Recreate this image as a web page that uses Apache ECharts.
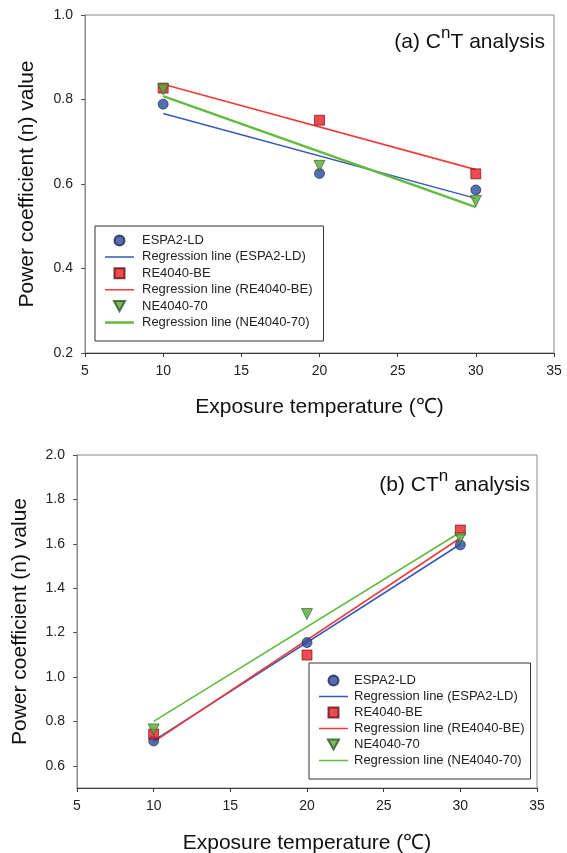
<!DOCTYPE html>
<html>
<head>
<meta charset="utf-8">
<script src="https://cdn.jsdelivr.net/npm/echarts@6/dist/echarts.min.js"></script>
<style>
    body { margin: 0; background: #fff; }
    #chart-a { position: absolute; left: 0; top: 0; width: 567px; height: 427px; }
    #chart-b { position: absolute; left: 0; top: 427px; width: 567px; height: 426px; }
</style>
</head>
<body>
<div id="chart-a"></div>
<div id="chart-b"></div>
<script type="application/javascript">
    // data
    var temps = [10, 20, 30];
    var fitX = [10, 30];
    var xTicks = [5, 10, 15, 20, 25, 30, 35];

    // (a) C^nT analysis
    var espaA = [0.789, 0.625, 0.586];
    var reA = [0.827, 0.751, 0.624];
    var neA = [0.824, 0.643, 0.560];
    var espaFitA = [0.767, 0.566];
    var reFitA = [0.836, 0.634];
    var neFitA = [0.808, 0.545];
    var yTicksA = [0.2, 0.4, 0.6, 0.8, 1.0];

    // (b) CT^n analysis
    var espaB = [0.712, 1.155, 1.595];
    var reB = [0.743, 1.099, 1.662];
    var neB = [0.764, 1.284, 1.625];
    var espaFitB = [0.713, 1.598];
    var reFitB = [0.708, 1.626];
    var neFitB = [0.800, 1.652];
    var yTicksB = [0.6, 0.8, 1.0, 1.2, 1.4, 1.6, 1.8, 2.0];

    var names = ['ESPA2-LD', 'Regression line (ESPA2-LD)', 'RE4040-BE',
                 'Regression line (RE4040-BE)', 'NE4040-70', 'Regression line (NE4040-70)'];
    var FONT = '"Liberation Sans", Arial, sans-serif';
    var triDown = 'path://M0,0 L10,0 L5,9 Z';
    var square = 'path://M0,0 L10,0 L10,10 L0,10 Z';

    function pairs(xs, ys) {
        return xs.map(function (x, i) { return [x, ys[i]]; });
    }

    // flat bar used as the legend icon of a regression line
    function lineIcon(w) {
        var y0 = (10 - w) / 2;
        return 'path://M0,0 L0.01,0 L0.01,10 L0,10 Z M0,' + y0 + ' L29,' + y0 + ' L29,' + (y0 + w) + ' L0,' + (y0 + w) + ' Z';
    }

    function scatter(name, xs, ys, symbol, size, color, border) {
        return {
            name: name, type: 'scatter', z: 5,
            symbol: symbol, symbolSize: size,
            itemStyle: {color: color, borderColor: border, borderWidth: 0.8},
            data: pairs(xs, ys)
        };
    }

    function fitLine(name, ys, color, width) {
        return {
            name: name, type: 'line', z: 3,
            symbol: 'none', silent: true,
            lineStyle: {color: color, width: width},
            itemStyle: {color: color},
            data: pairs(fitX, ys)
        };
    }

    function build(el, cfg) {
        var chart = echarts.init(document.getElementById(el));
        var option = {};
        option.animation = false;
        option.textStyle = {fontFamily: FONT};
        option.title = {
            text: cfg.title,
            right: cfg.titleRight, top: cfg.titleTop,
            textStyle: {
                fontWeight: 'normal',
                rich: {
                    t: {fontFamily: FONT, fontSize: 21, fontWeight: 'normal', color: '#111', lineHeight: 28, verticalAlign: 'bottom'},
                    s: {fontFamily: FONT, fontSize: 17, fontWeight: 'normal', color: '#111', lineHeight: 17, verticalAlign: 'top'}
                }
            }
        };
        option.grid = {
            left: cfg.grid[0], top: cfg.grid[1], right: cfg.grid[2], height: cfg.grid[3],
            outerBoundsMode: 'none', containLabel: false,
            show: true, borderColor: '#8a8a8a', borderWidth: 1, backgroundColor: 'transparent'
        };
        option.legend = {
            data: [
                {name: names[0], icon: 'circle'},
                {name: names[1], icon: lineIcon(1.5)},
                {name: names[2], icon: square},
                {name: names[3], icon: lineIcon(1.6)},
                {name: names[4], icon: triDown},
                {name: names[5], icon: lineIcon(cfg.greenWidth)}
            ],
            orient: 'vertical',
            left: cfg.legend[0], top: cfg.legend[1],
            padding: cfg.legendPad,
            borderColor: '#333', borderWidth: 1,
            itemWidth: 29, itemHeight: 10, itemGap: cfg.legendGap,
            selectedMode: false,
            textStyle: {fontFamily: FONT, fontSize: 13, color: '#222', padding: [0, 0, 0, cfg.legendTextPad]}
        };
        option.xAxis = {
            type: 'value', min: 5, max: 35, interval: 5,
            name: 'Exposure temperature (\u2103)', nameLocation: 'middle', nameGap: cfg.xNameGap,
            nameTextStyle: {fontFamily: FONT, fontSize: 21, color: '#111'},
            axisLine: {lineStyle: {color: '#3a3a3a', width: 1}},
            axisTick: {inside: false, length: 4, lineStyle: {color: '#3a3a3a'}},
            axisLabel: {fontFamily: FONT, fontSize: 14, color: '#222', margin: 11,
                customValues: xTicks},
            splitLine: {show: false}
        };
        option.yAxis = {
            type: 'value', min: cfg.yMin, max: cfg.yMax,
            name: 'Power coefficient (n) value', nameLocation: 'middle', nameGap: cfg.yNameGap,
            nameTextStyle: {fontFamily: FONT, fontSize: 21, color: '#111'},
            axisLine: {show: true, lineStyle: {color: '#8a8a8a', width: 1}},
            axisTick: {show: true, length: 4, lineStyle: {color: '#555'}, customValues: cfg.yTicks},
            axisLabel: {fontFamily: FONT, fontSize: 14, color: '#222', margin: 12,
                customValues: cfg.yTicks,
                formatter: function (v) { return v.toFixed(1); }},
            splitLine: {show: false}
        };
        option.series = [
            scatter(names[0], temps, cfg.espa, 'circle', 10, '#2a4a9c', '#1b2450'),
            fitLine(names[1], cfg.espaFit, '#3358b8', 1.5),
            scatter(names[2], temps, cfg.re, square, 10, '#ec1c24', '#5a1010'),
            fitLine(names[3], cfg.reFit, '#f23a3a', 1.6),
            scatter(names[4], temps, cfg.ne, triDown, 11, '#5aa83a', '#2c5a1c'),
            fitLine(names[5], cfg.neFit, '#62bb3e', cfg.greenWidth)
        ];
        chart.setOption(option);
        return chart;
    }

    build('chart-a', {
        title: '{t|(a) C}{s|n}{t|T analysis}', titleRight: 17, titleTop: 20,
        grid: [85, 15, 13, 338],
        legend: [95, 226], legendPad: [8, 11, 12, 10], legendGap: 3.4, legendTextPad: 3,
        xNameGap: 44, yNameGap: 47,
        yMin: 0.2, yMax: 1.0, yTicks: yTicksA,
        espa: espaA, re: reA, ne: neA,
        espaFit: espaFitA, reFit: reFitA, neFit: neFitA,
        greenWidth: 2.4
    });

    build('chart-b', {
        title: '{t|(b) CT}{s|n}{t| analysis}', titleRight: 32, titleTop: 36,
        grid: [77, 28, 30, 333],
        legend: [309, 236], legendPad: [11, 6, 12, 10], legendGap: 3, legendTextPad: 1,
        xNameGap: 45, yNameGap: 46,
        yMin: 0.5, yMax: 2.0, yTicks: yTicksB,
        espa: espaB, re: reB, ne: neB,
        espaFit: espaFitB, reFit: reFitB, neFit: neFitB,
        greenWidth: 1.6
    });
</script>
</body>
</html>
